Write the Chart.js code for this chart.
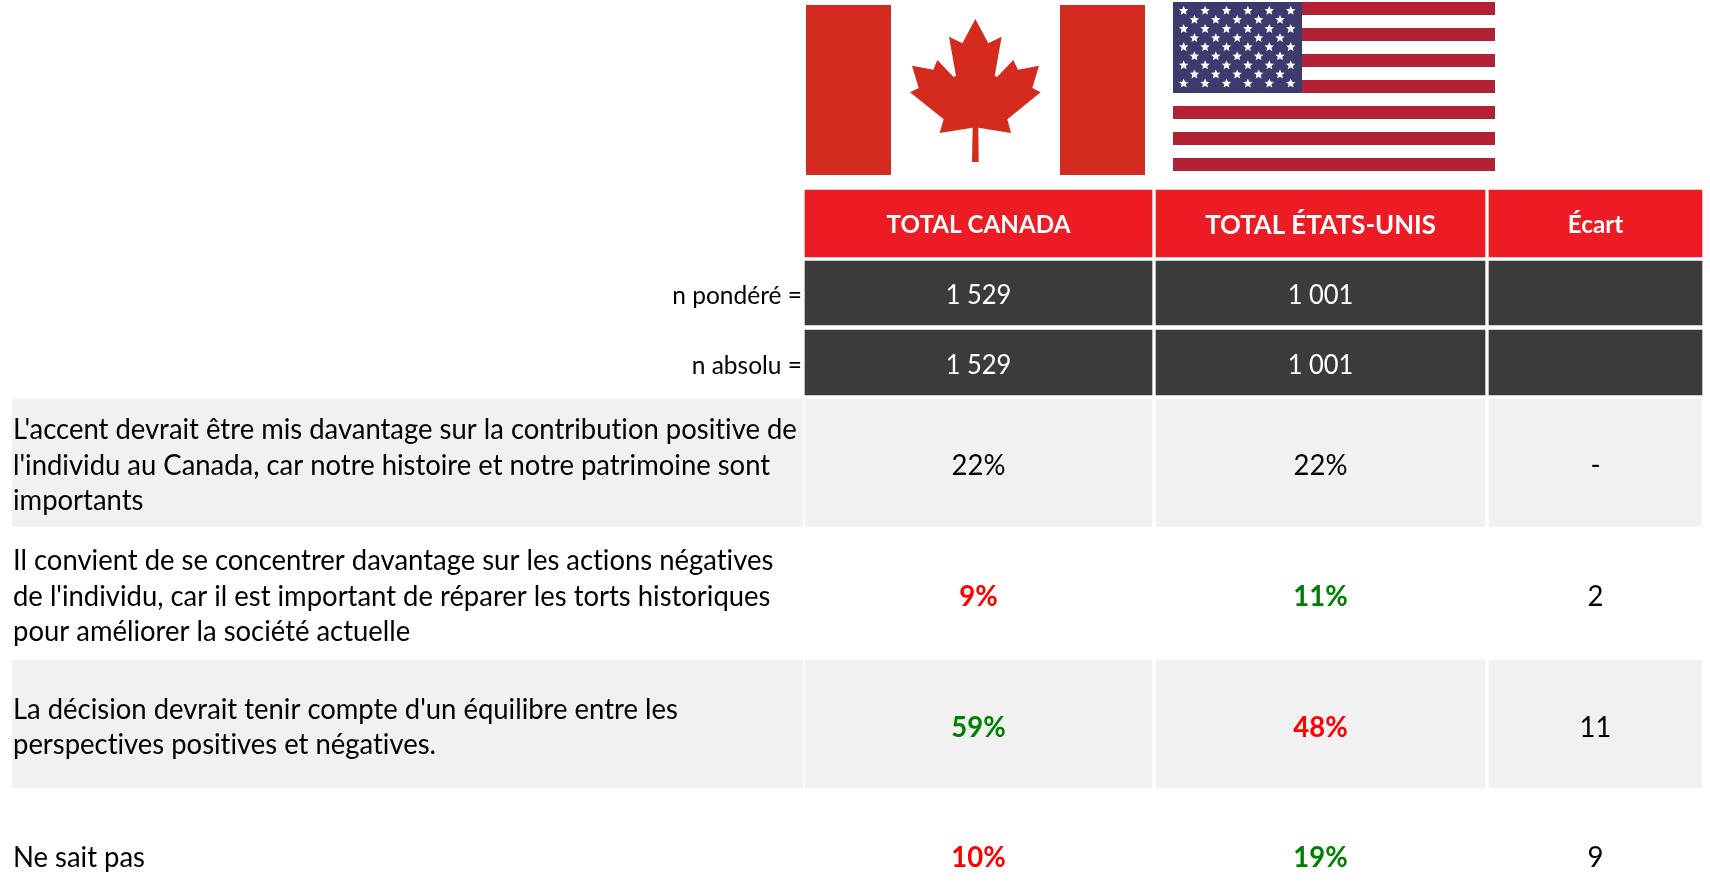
<!DOCTYPE html>
<html>
<head>
<meta charset="utf-8">
<title>Canada / États-Unis</title>
<script src="https://cdn.jsdelivr.net/npm/chart.js@4"></script>
<style>
    html, body { margin: 0; padding: 0; background: #fff; overflow: hidden; }
    canvas { display: block; }
</style>
</head>
<body>
<canvas id="tableChart" width="1710" height="886"></canvas>
<script>
// --- DATA ---
const columnHeaders = ['TOTAL CANADA', 'TOTAL ÉTATS-UNIS', 'Écart'];
const baseLabels = ['n pondéré =', 'n absolu ='];
const canadaBases = ['1 529', '1 529'];
const usBases = ['1 001', '1 001'];
const answerLabels = [
    ["L'accent devrait être mis davantage sur la contribution positive de", "l'individu au Canada, car notre histoire et notre patrimoine sont", 'importants'],
    ['Il convient de se concentrer davantage sur les actions négatives', "de l'individu, car il est important de réparer les torts historiques", 'pour améliorer la société actuelle'],
    ["La décision devrait tenir compte d'un équilibre entre les", 'perspectives positives et négatives.'],
    ['Ne sait pas']
];
const canadaValues = [22, 9, 59, 10];
const usValues = [22, 11, 48, 19];
const gapValues = ['-', '2', '11', '9'];
const canadaFlags = ['none', 'low', 'high', 'low'];
const usFlags = ['none', 'high', 'low', 'high'];

// --- LAYOUT (pixels of the 1710x886 page, the scales below run 1:1) ---
const rowTops = [190, 261, 330, 399, 527, 660, 789];
const rowBottoms = [257, 325, 395, 527, 660, 788, 886];
const rowCenters = [224, 294, 364, 464, 595, 726, 856];
const columnLeft = [12, 805, 1156, 1489];
const columnRight = [803, 1152, 1485, 1702];
const labelX = 13;
const baseLabelX = 802;
const lineGap = 35.5;
const headerFonts = ['bold 24.7px', 'bold 26.3px', 'bold 24.7px'];

const RED = '#ED1C24';
const DARK = '#3B3B3B';
const LIGHT = '#F1F1F1';
const rowFills = [RED, DARK, DARK, LIGHT, '#ffffff', LIGHT, '#ffffff'];
const flagColors = { none: '#000000', low: '#FF0000', high: '#008000' };

const FONT = 'Lato, "Noto Sans", sans-serif';
const TEXT_SQUEEZE = 0.98;
const TEXT_NUDGE = 1.5;

function columnDataset(col) {
    const center = (columnLeft[col] + columnRight[col]) / 2;
    return {
        data: rowTops.map((top, i) => ({ x: center, y: [top, rowBottoms[i]] })),
        backgroundColor: rowTops.map((_, i) => (col === 0 && i < 3) ? '#ffffff' : rowFills[i]),
        barThickness: columnRight[col] - columnLeft[col],
        grouped: false,
        borderWidth: 0
    };
}

function drawText(ctx, text, x, y, font, color, align) {
    ctx.save();
    ctx.font = font + ' ' + FONT;
    ctx.textRendering = 'optimizeSpeed'; // no "ti" ligatures, the reference has none
    ctx.fillStyle = color;
    ctx.textAlign = align || 'center';
    ctx.textBaseline = 'middle';
    ctx.translate(x, y + TEXT_NUDGE);
    ctx.scale(TEXT_SQUEEZE, 1);
    ctx.fillText(text, 0, 0);
    ctx.restore();
}

// --- FLAGS ---
const leafPoints = [
    [556,57],[595,130],[635,110],[614,228],[622,230],[670,180],[684,209],[747,197],[727,264],[752,277],
    [652,358],[663,399],[565,383],[566,486],[546,486],[548,383],[449,399],[461,358],[360,277],[386,264],
    [366,197],[430,209],[442,180],[490,230],[498,228],[477,110],[517,130]
];

function drawCanada(ctx) {
    ctx.fillStyle = '#D52B1E';
    ctx.fillRect(806, 5, 85, 170);
    ctx.fillRect(1060, 5, 85, 170);
    ctx.beginPath();
    leafPoints.forEach(p => ctx.lineTo(790 + p[0] / 3, p[1] / 3));
    ctx.closePath();
    ctx.fill();
}

function drawStar(ctx, cx, cy, r) {
    ctx.beginPath();
    for (let i = 0; i < 10; i++) {
        const rad = i % 2 ? r * 0.45 : r;
        const a = -Math.PI / 2 + i * Math.PI / 5;
        ctx.lineTo(cx + rad * Math.cos(a), cy + rad * Math.sin(a));
    }
    ctx.closePath();
    ctx.fill();
}

function drawUsa(ctx) {
    const left = 1173, width = 322, top = 2, stripe = 13;
    ctx.fillStyle = '#B22234';
    for (let i = 0; i < 13; i += 2) ctx.fillRect(left, top + i * stripe, width, stripe);
    ctx.fillStyle = '#3C3B6E';
    ctx.fillRect(left, top, 129, 91);
    ctx.fillStyle = '#ffffff';
    for (let row = 0; row < 9; row++) {
        const odd = row % 2 === 1;
        for (let c = 0; c < (odd ? 5 : 6); c++) {
            drawStar(ctx, left + 10.7 + (odd ? 10.7 : 0) + c * 21.4, top + 8.7 + row * 9.1, 5);
        }
    }
}

const tablePlugin = {
    id: 'tableText',
    afterDatasetsDraw(chart) {
        const ctx = chart.ctx;
        const xs = chart.scales.x;
        const ys = chart.scales.y;
        const colX = [1, 2, 3].map(c => xs.getPixelForValue((columnLeft[c] + columnRight[c]) / 2));

        drawCanada(ctx);
        drawUsa(ctx);

        // header row
        columnHeaders.forEach((h, i) => {
            drawText(ctx, h, colX[i], ys.getPixelForValue(rowCenters[0]), headerFonts[i], '#ffffff');
        });

        // sample size rows
        baseLabels.forEach((label, i) => {
            const y = ys.getPixelForValue(rowCenters[i + 1]);
            drawText(ctx, label, xs.getPixelForValue(baseLabelX), y, '25px', '#000000', 'right');
            drawText(ctx, canadaBases[i], colX[0], y, '26px', '#ffffff');
            drawText(ctx, usBases[i], colX[1], y, '26px', '#ffffff');
        });

        // answer rows
        answerLabels.forEach((lines, i) => {
            const y = ys.getPixelForValue(rowCenters[i + 3]);
            lines.forEach((line, l) => {
                const ly = y + (l - (lines.length - 1) / 2) * lineGap;
                drawText(ctx, line, xs.getPixelForValue(labelX), ly, '28px', '#000000', 'left');
            });
            const caWeight = canadaFlags[i] === 'none' ? '28px' : 'bold 28px';
            const usWeight = usFlags[i] === 'none' ? '28px' : 'bold 28px';
            drawText(ctx, canadaValues[i] + '%', colX[0], y, caWeight, flagColors[canadaFlags[i]]);
            drawText(ctx, usValues[i] + '%', colX[1], y, usWeight, flagColors[usFlags[i]]);
            drawText(ctx, gapValues[i], colX[2], y, '28px', '#000000');
        });
    }
};

new Chart(document.getElementById('tableChart').getContext('2d'), {
    type: 'bar',
    data: { datasets: [0, 1, 2, 3].map(columnDataset) },
    options: {
        responsive: false,
        animation: false,
        layout: { padding: 0 },
        plugins: { legend: { display: false }, tooltip: { enabled: false }, title: { display: false } },
        scales: {
            x: { type: 'linear', min: 0, max: 1710, display: false, offset: false },
            y: { type: 'linear', min: 0, max: 886, reverse: true, display: false }
        }
    },
    plugins: [tablePlugin]
});
</script>
</body>
</html>
